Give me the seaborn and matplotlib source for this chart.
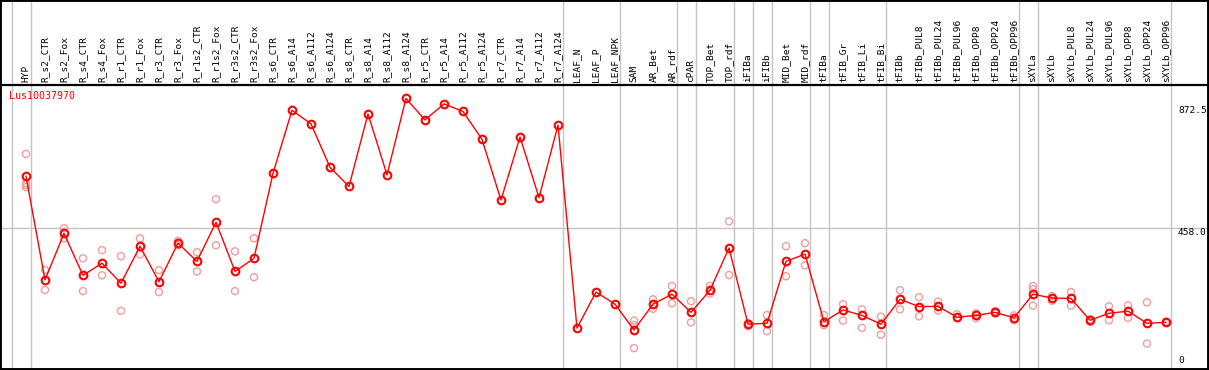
import numpy as np
import pandas as pd
import matplotlib
matplotlib.use("Agg")
import matplotlib.pyplot as plt
import matplotlib.transforms as mtransforms
import seaborn as sns

gene = "Lus10037970"

categories = [
    "HYP",
    "R_s2_CTR", "R_s2_Fox", "R_s4_CTR", "R_s4_Fox", "R_r1_CTR", "R_r1_Fox",
    "R_r3_CTR", "R_r3_Fox", "R_r1s2_CTR", "R_r1s2_Fox", "R_r3s2_CTR", "R_r3s2_Fox",
    "R_s6_CTR", "R_s6_A14", "R_s6_A112", "R_s6_A124",
    "R_s8_CTR", "R_s8_A14", "R_s8_A112", "R_s8_A124",
    "R_r5_CTR", "R_r5_A14", "R_r5_A112", "R_r5_A124",
    "R_r7_CTR", "R_r7_A14", "R_r7_A112", "R_r7_A124",
    "LEAF_N", "LEAF_P", "LEAF_NPK", "SAM", "AR_Bet", "AR_rdf", "cPAR",
    "TOP_Bet", "TOP_rdf", "iFIBa", "iFIBb", "MID_Bet", "MID_rdf",
    "tFIBa", "tFIB_Gr", "tFIB_Li", "tFIB_Bi", "tFIBb",
    "tFIBb_PUL8", "tFIBb_PUL24", "tFIBb_PUL96", "tFIBb_OPP8", "tFIBb_OPP24", "tFIBb_OPP96",
    "sXYLa", "sXYLb",
    "sXYLb_PUL8", "sXYLb_PUL24", "sXYLb_PUL96", "sXYLb_OPP8", "sXYLb_OPP24", "sXYLb_OPP96",
]

means = [
    629,
    287, 440, 302, 342, 276, 398, 281, 408, 348, 477, 315, 358,
    638, 846, 801, 658,
    595, 834, 633, 885,
    814, 867, 842, 750,
    550, 758, 558, 797,
    128, 247, 207, 122, 207, 240, 180,
    253, 392, 141, 144, 348, 372,
    149, 188, 170, 141, 223,
    199, 200, 164, 170, 180, 162,
    240, 227,
    226, 154, 177, 184, 144, 147,
]

replicates = [
    [702, 606, 600, 593],
    [320, 254], [457, 424], [358, 250], [385, 302], [365, 185], [424, 371],
    [319, 247], [416, 401], [378, 315], [553, 401], [381, 250], [424, 296],
    [], [], [], [],
    [], [], [], [],
    [], [], [], [],
    [], [], [], [],
    [], [], [], [153, 138, 62], [223, 192], [267, 210], [217, 147],
    [267, 242], [480, 303], [144, 135], [171, 118], [398, 299], [408, 335],
    [171, 138], [207, 153], [190, 129], [166, 106], [253, 190],
    [230, 167], [215, 186], [174, 161], [177, 161], [184, 177], [170, 154],
    [267, 256, 202], [234, 218],
    [247, 202], [157, 149], [200, 154], [203, 162], [213, 77], [149, 145],
]

# group separators drawn after these category indices
separators_after = [-1, 0, 28, 31, 34, 35, 37, 38, 39, 41, 42, 45, 52, 53, 60]

axis_labels = [(872.5, "872.5"), (458.0, "458.0"), (0, "0")]

# ---------------------------------------------------------------------------
idx = np.arange(len(categories))
df_mean = pd.DataFrame({"idx": idx, "value": means, "cat": categories})
rows = []
for i, reps in enumerate(replicates):
    for r in reps:
        rows.append({"idx": i, "value": r})
df_rep = pd.DataFrame(rows)

sns.set_style("white")
plt.rcParams["font.family"] = ["DejaVu Sans Mono", "DejaVu Sans"]

W, H = 1209, 370
fig = plt.figure(figsize=(W / 100, H / 100), dpi=100)
ax = fig.add_axes([0, 0, 1, 1])

# pixel geometry
x0_pix, dx_pix = 26.0, 19.0
zero_pix_from_bottom = 3.0
px_per_unit = 0.3035
xmin = -x0_pix / dx_pix
xmax = (W - x0_pix) / dx_pix
ymin = -zero_pix_from_bottom / px_per_unit
ymax = (H - zero_pix_from_bottom) / px_per_unit
ax.set_xlim(xmin, xmax)
ax.set_ylim(ymin, ymax)

grid_col = "#c4c4c4"
for s in separators_after:
    ax.axvline(s + 0.25, color=grid_col, lw=1.0, zorder=1)
ax.axhline(458.0, color=grid_col, lw=1.0, zorder=1)

header_frac = 1 - 85 / H
ax.axhline(ymin + header_frac * (ymax - ymin), color="black", lw=1.6, zorder=2)

sns.scatterplot(data=df_rep, x="idx", y="value", ax=ax, marker="o", s=26,
                facecolors="none", edgecolor="#f09c9c", linewidth=1.0,
                zorder=3, legend=False)
sns.lineplot(data=df_mean, x="idx", y="value", ax=ax, color="red", lw=1.0,
             marker="o", markersize=5.5, markerfacecolor="none",
             markeredgecolor="red", markeredgewidth=1.5, zorder=4,
             legend=False)

blend = mtransforms.blended_transform_factory(ax.transData, ax.transAxes)
label_bottom = 1 - 82.5 / H
for i, c in enumerate(categories):
    ax.text(i, label_bottom, c, transform=blend, rotation=90, ha="center",
            va="bottom", fontsize=6.8, color="black")

ax.text(9 / W, 1 - 91 / H, gene, transform=ax.transAxes, ha="left", va="top",
        fontsize=7.2, color="red")

blend_y = mtransforms.blended_transform_factory(ax.transAxes, ax.transData)
for val, txt in axis_labels:
    if val == 0:
        ax.annotate(txt, xy=(1178 / W, val), xycoords=blend_y, xytext=(0, 1.5),
                    textcoords="offset points", ha="left", va="bottom",
                    fontsize=6.8, color="black")
    else:
        ax.annotate(txt, xy=(1178 / W, val), xycoords=blend_y,
                    xytext=(0, -3 if val > 800 else 0),
                    textcoords="offset points", ha="left", va="top",
                    fontsize=6.8, color="black")

ax.set_xlabel("")
ax.set_ylabel("")
ax.set_xticks([])
ax.set_yticks([])
for sp in ax.spines.values():
    sp.set_visible(True)
    sp.set_color("black")
    sp.set_linewidth(2.8)

fig.savefig("out.png", dpi=100)
